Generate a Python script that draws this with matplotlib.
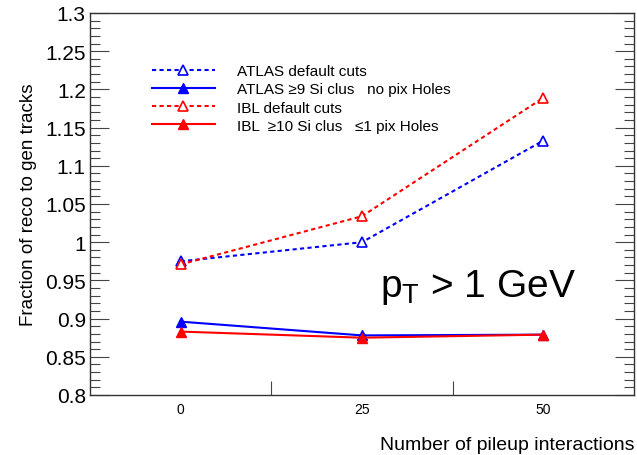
import matplotlib
matplotlib.use("Agg")
import matplotlib.pyplot as plt
from matplotlib.ticker import MultipleLocator, FixedLocator, NullFormatter

plt.rcParams['font.family'] = ['Liberation Sans', 'DejaVu Sans']

categories = ["0", "25", "50"]
atlas_default = [0.975, 1.000, 1.133]
atlas_tight = [0.896, 0.878, 0.879]
ibl_default = [0.971, 1.034, 1.189]
ibl_tight = [0.883, 0.875, 0.879]

labels = ["ATLAS default cuts",
          "ATLAS \u22659 Si clus   no pix Holes",
          "IBL default cuts",
          "IBL  \u226510 Si clus   \u22641 pix Holes"]

fig = plt.figure(figsize=(6.37, 4.56), dpi=100)
ax = fig.add_axes([90/637, 1-396/456, (634-90)/637, (396-14)/456])

x = list(range(len(categories)))
blue = "#0000ff"
red = "#ff0000"
dash = (0, (2.0, 1.6))
ax.plot(x, atlas_default, color=blue, ls=dash, lw=1.5, marker="^",
        mfc="white", mec=blue, ms=7, mew=1.2, label=labels[0])
ax.plot(x, atlas_tight, color=blue, ls="-", lw=1.5, marker="^",
        mfc=blue, mec=blue, ms=7, label=labels[1])
ax.plot(x, ibl_default, color=red, ls=dash, lw=1.5, marker="^",
        mfc="white", mec=red, ms=7, mew=1.2, label=labels[2])
ax.plot(x, ibl_tight, color=red, ls="-", lw=1.5, marker="^",
        mfc=red, mec=red, ms=7, label=labels[3])

ax.set_xlim(-0.5, len(categories) - 0.5)
ax.set_ylim(0.8, 1.3)

ax.xaxis.set_major_locator(FixedLocator([i + 0.5 for i in range(len(categories) - 1)]))
ax.xaxis.set_major_formatter(NullFormatter())
ax.xaxis.set_minor_locator(FixedLocator(x))
ax.set_xticklabels(categories, minor=True)
ax.tick_params(axis="x", which="major", direction="in", length=10, width=0.8, color="#444444")
ax.tick_params(axis="x", which="minor", length=0, pad=5, labelsize=10)

ax.yaxis.set_major_locator(MultipleLocator(0.05))
ax.yaxis.set_minor_locator(MultipleLocator(0.01))
ax.set_yticks([0.8 + 0.05 * i for i in range(11)])
ax.set_yticklabels(["0.8", "0.85", "0.9", "0.95", "1", "1.05", "1.1", "1.15", "1.2", "1.25", "1.3"])
ax.tick_params(axis="y", which="major", direction="in", length=14, width=0.8,
               right=True, labelsize=15, color="#444444", pad=3)
ax.tick_params(axis="y", which="minor", direction="in", length=7, width=0.8,
               right=True, color="#444444")

for s in ax.spines.values():
    s.set_linewidth(1.0)
    s.set_color("#333333")

ax.set_ylabel("Fraction of reco to gen tracks", fontsize=13.5, labelpad=6)
fig.text(634/637, 1-446/456, "Number of pileup interactions", fontsize=14,
         ha="right", va="center")

ax.text(380/637, 1-288/456, r"p$_{\mathregular{T}}$ > 1 GeV", transform=fig.transFigure,
        fontsize=28, ha="left", va="center")

leg = ax.legend(loc="upper left", bbox_to_anchor=(152/637, 1-65/456),
                bbox_transform=fig.transFigure, frameon=False, fontsize=11,
                handlelength=4.1, handletextpad=1.45, labelspacing=0.28,
                borderpad=0, borderaxespad=0)

fig.savefig("out.png", dpi=100)
